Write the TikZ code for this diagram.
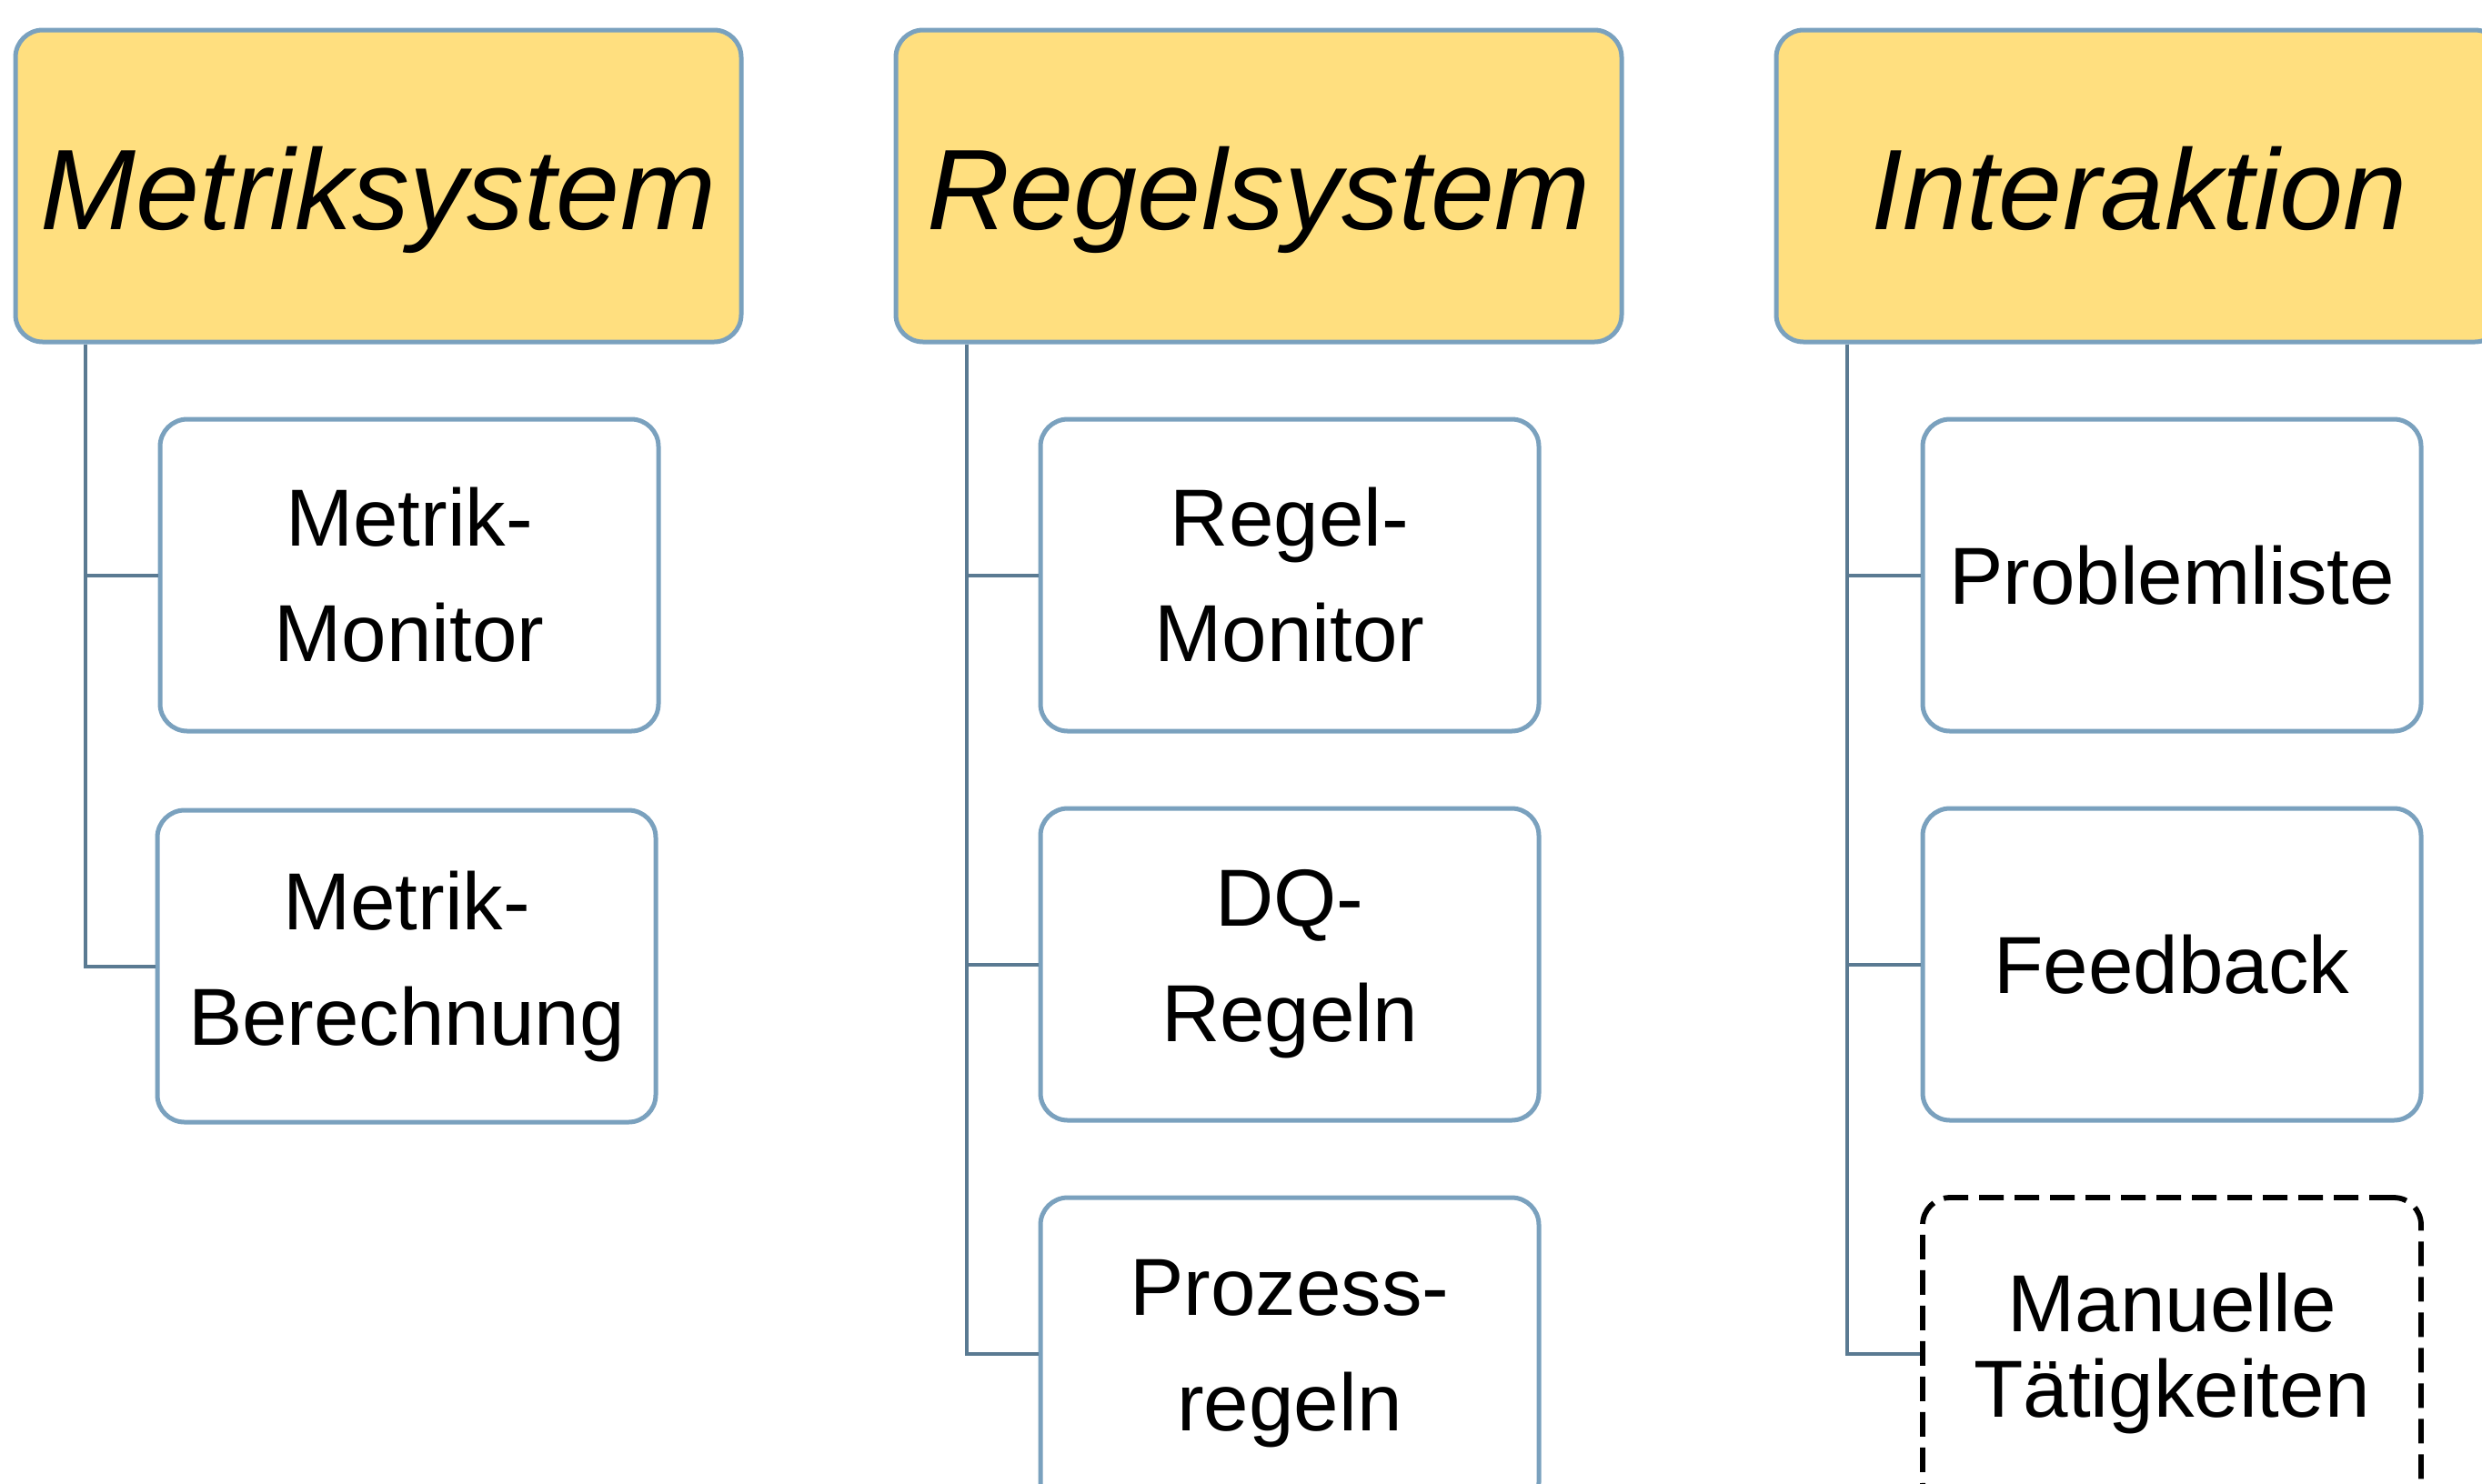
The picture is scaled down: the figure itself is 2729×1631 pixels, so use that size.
\documentclass[tikz,border=0pt]{standalone}
\usepackage{fontspec}
\setmainfont{Liberation Sans}
\definecolor{headfill}{RGB}{255,223,127}
\definecolor{boxblue}{RGB}{122,161,190}
\definecolor{lineblue}{RGB}{90,122,146}
\begin{document}
\begin{tikzpicture}[x=0.25pt,y=-0.25pt,
 head/.style={draw=boxblue, fill=headfill, line width=1.25pt, rounded corners=7.5pt,
   minimum width=199.5pt, minimum height=85.75pt, inner sep=0pt,
   font=\fontsize{31.5}{36}\selectfont\itshape, text depth=0pt, text height=24pt},
 item/.style={draw=boxblue, fill=white, line width=1.25pt, rounded corners=7.5pt,
   minimum width=137pt, minimum height=85.75pt, inner sep=0pt, align=center,
   font=\fontsize{22.25}{31.75}\selectfont},
 optitem/.style={item, draw=black, line width=1.45pt, dash pattern=on 6.75pt off 3pt,
   font=\fontsize{22.25}{23.5}\selectfont},
 conn/.style={draw=lineblue, line width=1pt}]
\useasboundingbox (0,0) rectangle (2729,1631);
\clip (0,0) rectangle (2729,1631);

\node[head] (h1) at (416,204.5) {Metriksystem};
\node[head] (h2) at (1384,204.5) {Regelsystem};
\node[head] (h3) at (2352,204.5) {Interaktion};

\node[item] (a1) at (450,632.5) {Metrik-\\Monitor};
\node[item] (b1) at (447,1062.5) {Metrik-\\Berechnung};

\node[item] (a2) at (1418,632.5) {Regel-\\Monitor};
\node[item] (b2) at (1418,1060.5) {DQ-\\Regeln};
\node[item] (c2) at (1418,1488.5) {Prozess-\\regeln};

\node[item] (a3) at (2388,632.5) {Problemliste};
\node[item] (b3) at (2388,1060.5) {Feedback};
\node[optitem] (c3) at (2388,1488.5) {Manuelle\\Tätigkeiten};

\draw[conn] ([xshift=19.75pt]h1.south west) |- (a1.west);
\draw[conn] ([xshift=19.75pt]h1.south west) |- (b1.west);
\draw[conn] ([xshift=20pt]h2.south west) |- (a2.west);
\draw[conn] ([xshift=20pt]h2.south west) |- (b2.west);
\draw[conn] ([xshift=20pt]h2.south west) |- (c2.west);
\draw[conn] ([xshift=20pt]h3.south west) |- (a3.west);
\draw[conn] ([xshift=20pt]h3.south west) |- (b3.west);
\draw[conn] ([xshift=20pt]h3.south west) |- (c3.west);
\end{tikzpicture}
\end{document}
